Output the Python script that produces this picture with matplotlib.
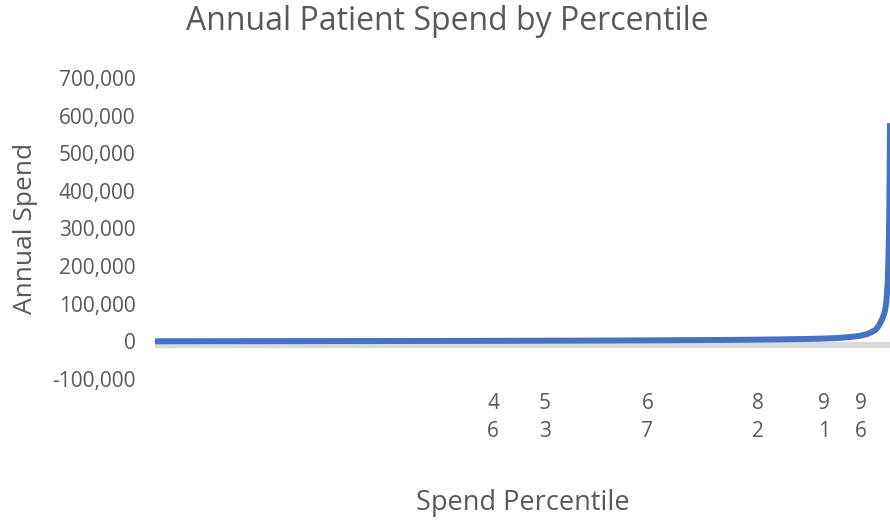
import matplotlib.pyplot as plt
import matplotlib.transforms as mtransforms
from matplotlib.ticker import FuncFormatter

# ==============================
# DATA
# ==============================
percentile = [0, 10, 20, 30, 40, 46, 50, 53, 60, 67, 70, 75, 80, 82, 85, 88, 90, 91,
              93, 95, 96, 97, 98, 98.5, 99, 99.3, 99.5, 99.7, 99.8, 99.9, 100]
spend = [300, 500, 700, 900, 1200, 1400, 1600, 1800, 2200, 2700, 3000, 3500, 4200,
         4600, 5300, 6200, 7000, 7500, 9000, 12500, 15000, 20000, 30000, 42000,
         62000, 80000, 105000, 160000, 230000, 330000, 580000]

tick_pct = [46, 53, 67, 82, 91, 96]
tick_labels = ["4\n6", "5\n3", "6\n7", "8\n2", "9\n1", "9\n6"]
y_ticks = list(range(-100000, 700001, 100000))

TEXT = "#595959"
plt.rcParams['font.family'] = ['Open Sans', 'DejaVu Sans']

# ==============================
# FIGURE
# ==============================
fig = plt.figure(figsize=(8.9, 5.21), dpi=100)
ax = fig.add_axes([155 / 890, 1 - 379 / 521, 735 / 890, 301 / 521])

# horizontal axis line, nudged a few pixels down so it peeks out under the series
shift = mtransforms.offset_copy(ax.get_yaxis_transform(), fig=fig, x=0, y=-4, units="dots")
ax.plot([0, 1], [0, 0], transform=shift, color="#D9D9D9", lw=4.5, zorder=1,
        solid_capstyle="butt")
ax.plot(percentile, spend, color="#4472C4", lw=4.3, zorder=2,
        solid_capstyle="butt", solid_joinstyle="round")

ax.set_xlim(0, 100)
ax.set_ylim(-100000, 700000)
ax.set_yticks(y_ticks)
ax.yaxis.set_major_formatter(FuncFormatter(lambda v, p: f"{int(v):,}"))
ax.set_xticks(tick_pct)
ax.set_xticklabels(tick_labels, linespacing=1.45)

for s in ax.spines.values():
    s.set_visible(False)
ax.tick_params(axis="both", length=0, labelsize=15, colors=TEXT)
ax.tick_params(axis="y", pad=14)
ax.tick_params(axis="x", pad=10)

ax.set_ylabel("Annual Spend", fontsize=19, color=TEXT, labelpad=10)
fig.text(523 / 890, 1 - 503 / 521, "Spend Percentile", fontsize=19.5, color=TEXT,
         ha="center", va="center")
fig.text(447 / 890, 1 - 22 / 521, "Annual Patient Spend by Percentile", fontsize=23,
         color=TEXT, ha="center", va="center")

plt.savefig("out.png", dpi=100)
